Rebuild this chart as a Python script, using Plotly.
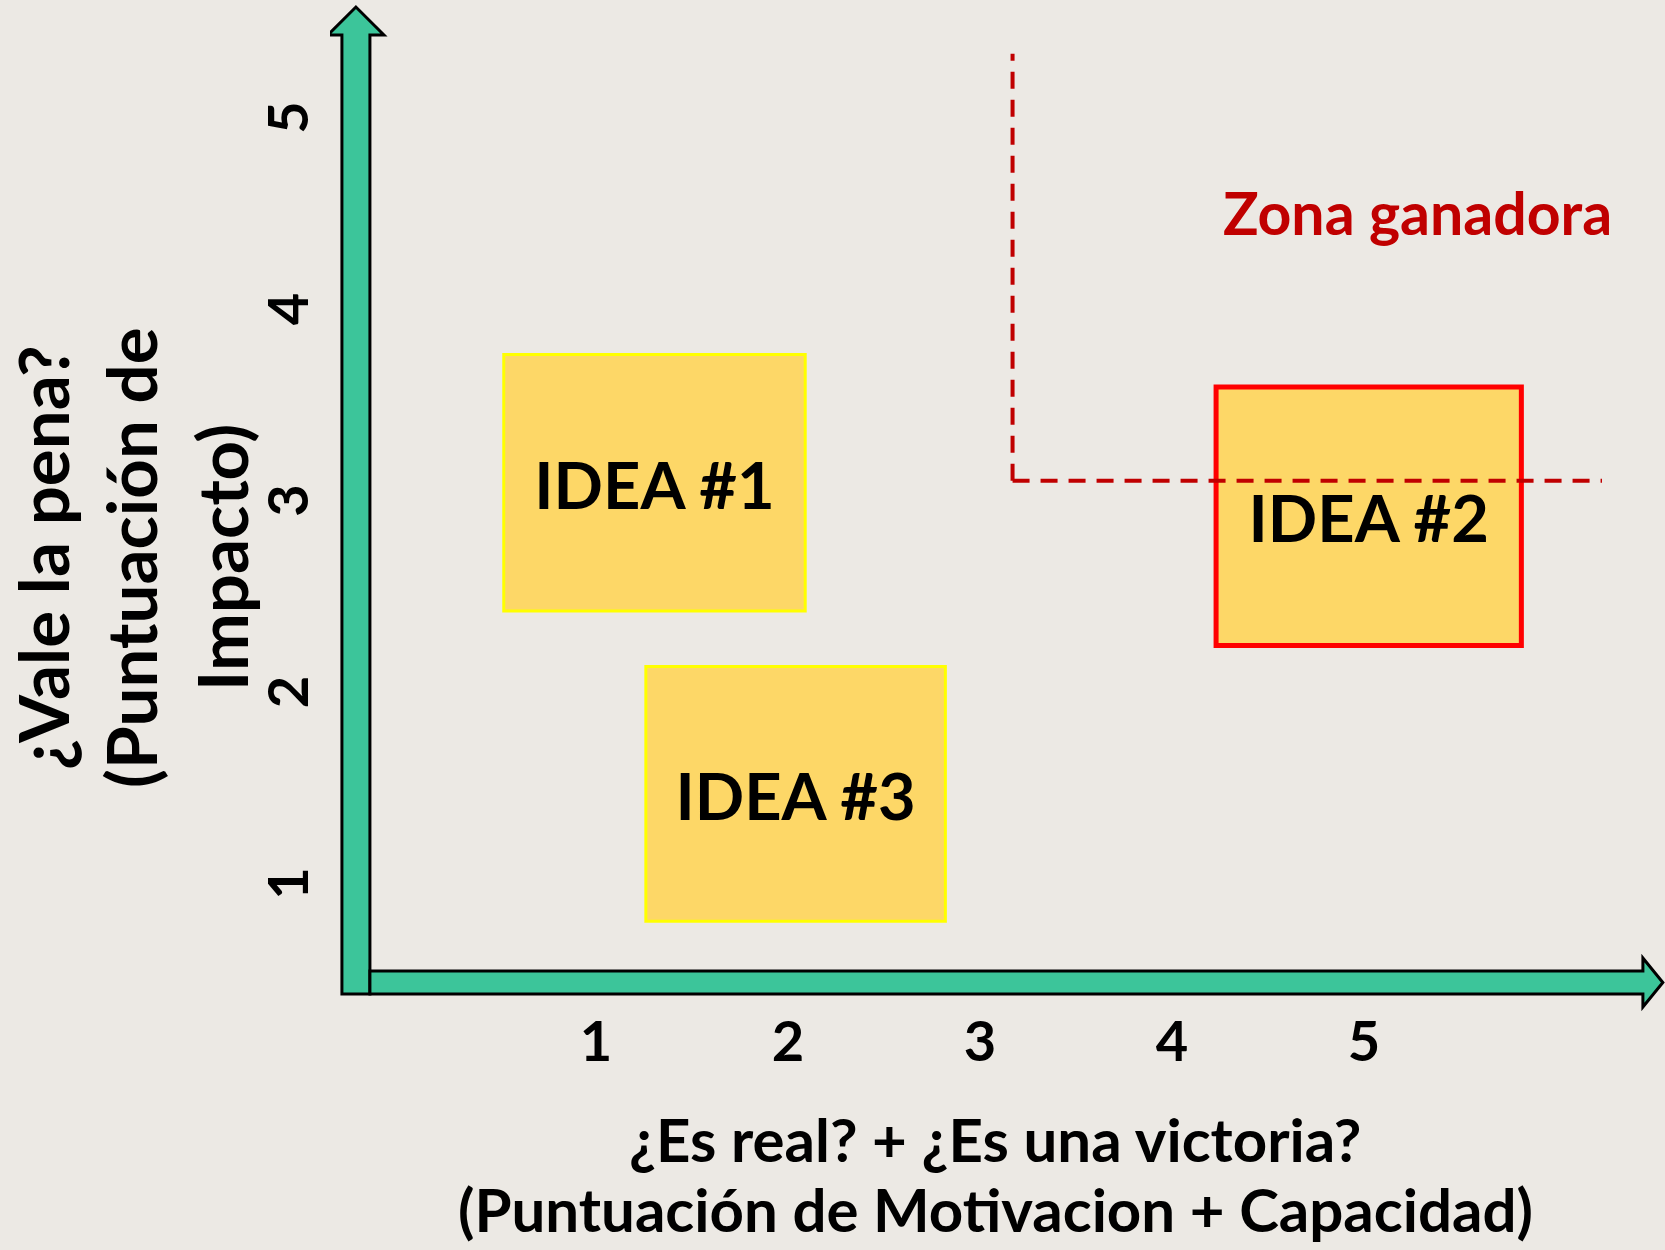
import plotly.graph_objects as go

# ---------------- data ----------------
idea_names = ["IDEA #1", "IDEA #2", "IDEA #3"]
idea_x0 = [0.52, 4.23, 1.26]
idea_x1 = [2.09, 5.82, 2.82]
idea_y0 = [2.41, 2.23, 0.79]
idea_y1 = [3.75, 3.58, 2.12]
idea_winner = [False, True, False]

zone_x = 3.17      # left edge of winning zone
zone_y = 3.09      # bottom edge of winning zone
zone_x_end = 6.24
zone_y_end = 5.32
zone_label = "Zona ganadora"
zone_label_x = 5.28
zone_label_y = 4.49

tick_vals = [1, 2, 3, 4, 5]
tick_text = ["1", "2", "3", "4", "5"]

x_title = ["¿Es real? + ¿Es una victoria?", "(Puntuación de Motivacion + Capacidad)"]
y_title = ["¿Vale la pena?", "(Puntuación de", "Impacto)"]

# ---------------- layout constants ----------------
W, H = 1665, 1250
ML, MR, MT, MB = 330, 0, 0, 238
PW, PH = W - ML - MR, H - MT - MB
PX_PER_X = 192.0
PX_PER_Y = 191.5
X0 = -0.385
Y0 = 0.316
x_range = [X0, X0 + PW / PX_PER_X]
y_range = [Y0, Y0 + PH / PX_PER_Y]

BG = "#ECE9E4"
GREEN = "#3CC59A"
BOX_FILL = "#FDD767"
FONT = "Lato"
LABEL_DROP_PX = 10  # optical centring of cap-height text

def paper_x(px):
    return (px - ML) / PW

def paper_y(py):
    return (H - MB - py) / PH

fig = go.Figure()

shapes = []

# axis arrows (drawn in data space)
ax_x = -0.25
ax_hw = 14 / PX_PER_X
head_hw = 28 / PX_PER_X
shaft_bottom = 0.41
shaft_top_h = 0.53
v_head_base = 5.418
v_tip = 5.564
h_head_base = 6.453
h_tip = 6.557
h_head_lo = 0.342
h_head_hi = 0.598

vpath = (f"M {ax_x-ax_hw},{shaft_bottom} L {ax_x+ax_hw},{shaft_bottom} "
         f"L {ax_x+ax_hw},{v_head_base} L {ax_x+head_hw},{v_head_base} "
         f"L {ax_x},{v_tip} L {ax_x-head_hw},{v_head_base} "
         f"L {ax_x-ax_hw},{v_head_base} Z")
hpath = (f"M {ax_x+ax_hw},{shaft_bottom} L {h_head_base},{shaft_bottom} "
         f"L {h_head_base},{h_head_lo} L {h_tip},{(shaft_bottom+shaft_top_h)/2} "
         f"L {h_head_base},{h_head_hi} L {h_head_base},{shaft_top_h} "
         f"L {ax_x+ax_hw},{shaft_top_h} Z")
for p in (vpath, hpath):
    shapes.append(dict(type="path", path=p, xref="x", yref="y",
                       fillcolor=GREEN, line=dict(color="black", width=3),
                       layer="below"))

# idea boxes
for x0, x1, y0, y1, win in zip(idea_x0, idea_x1, idea_y0, idea_y1, idea_winner):
    shapes.append(dict(type="rect", xref="x", yref="y", x0=x0, x1=x1, y0=y0, y1=y1,
                       fillcolor=BOX_FILL,
                       line=dict(color="#FF0000" if win else "#FFFF00",
                                 width=5 if win else 3),
                       layer="below"))

# winning zone dashed boundary
for (lx0, lx1, ly0, ly1) in [(zone_x, zone_x, zone_y, zone_y_end),
                             (zone_x, zone_x_end, zone_y, zone_y)]:
    shapes.append(dict(type="line", xref="x", yref="y", x0=lx0, x1=lx1,
                       y0=ly0, y1=ly1,
                       line=dict(color="#C00000", width=4, dash="17px,11px"),
                       layer="below"))

# idea labels
cx = [(a + b) / 2 for a, b in zip(idea_x0, idea_x1)]
cy = [(a + b) / 2 - LABEL_DROP_PX / PX_PER_Y for a, b in zip(idea_y0, idea_y1)]
fig.add_trace(go.Scatter(x=cx, y=cy, mode="text", text=idea_names,
                         textfont=dict(family=FONT, size=65, color="black", weight="bold"),
                         hoverinfo="skip", showlegend=False))

annotations = []
annotations.append(dict(x=zone_label_x, y=zone_label_y, xref="x", yref="y",
                        text=zone_label, showarrow=False,
                        font=dict(family=FONT, size=59, color="#C00000", weight="bold")))

# axis titles
for txt, py in zip(x_title, [1139, 1209]):
    annotations.append(dict(x=paper_x(995), y=paper_y(py), xref="paper", yref="paper",
                            text=txt, showarrow=False, xanchor="center", yanchor="middle",
                            font=dict(family=FONT, size=60, color="black", weight="bold")))
for txt, px in zip(y_title, [43, 131, 222]):
    annotations.append(dict(x=paper_x(px), y=paper_y(558), xref="paper", yref="paper",
                            text=txt, showarrow=False, textangle=-90,
                            xanchor="center", yanchor="middle",
                            font=dict(family=FONT, size=69, color="black", weight="bold")))

fig.update_layout(
    width=W, height=H,
    margin=dict(l=ML, r=MR, t=MT, b=MB, pad=0),
    paper_bgcolor=BG, plot_bgcolor=BG,
    shapes=shapes, annotations=annotations,
    showlegend=False,
    xaxis=dict(range=x_range, showgrid=False, zeroline=False, showline=False,
               tickmode="array", tickvals=tick_vals, ticktext=tick_text,
               ticks="", ticklabelstandoff=-8,
               tickfont=dict(family=FONT, size=56, color="black", weight="bold"),
               fixedrange=True),
    yaxis=dict(range=y_range, showgrid=False, zeroline=False, showline=False,
               tickmode="array", tickvals=tick_vals, ticktext=tick_text,
               ticks="", tickangle=-90, ticklabelstandoff=10, ticklabelshift=11,
               tickfont=dict(family=FONT, size=56, color="black", weight="bold"),
               fixedrange=True),
)

fig.write_html("out.html", config={"displayModeBar": False},
               post_script="document.body.style.margin='0';document.body.style.background='" + BG + "';")
